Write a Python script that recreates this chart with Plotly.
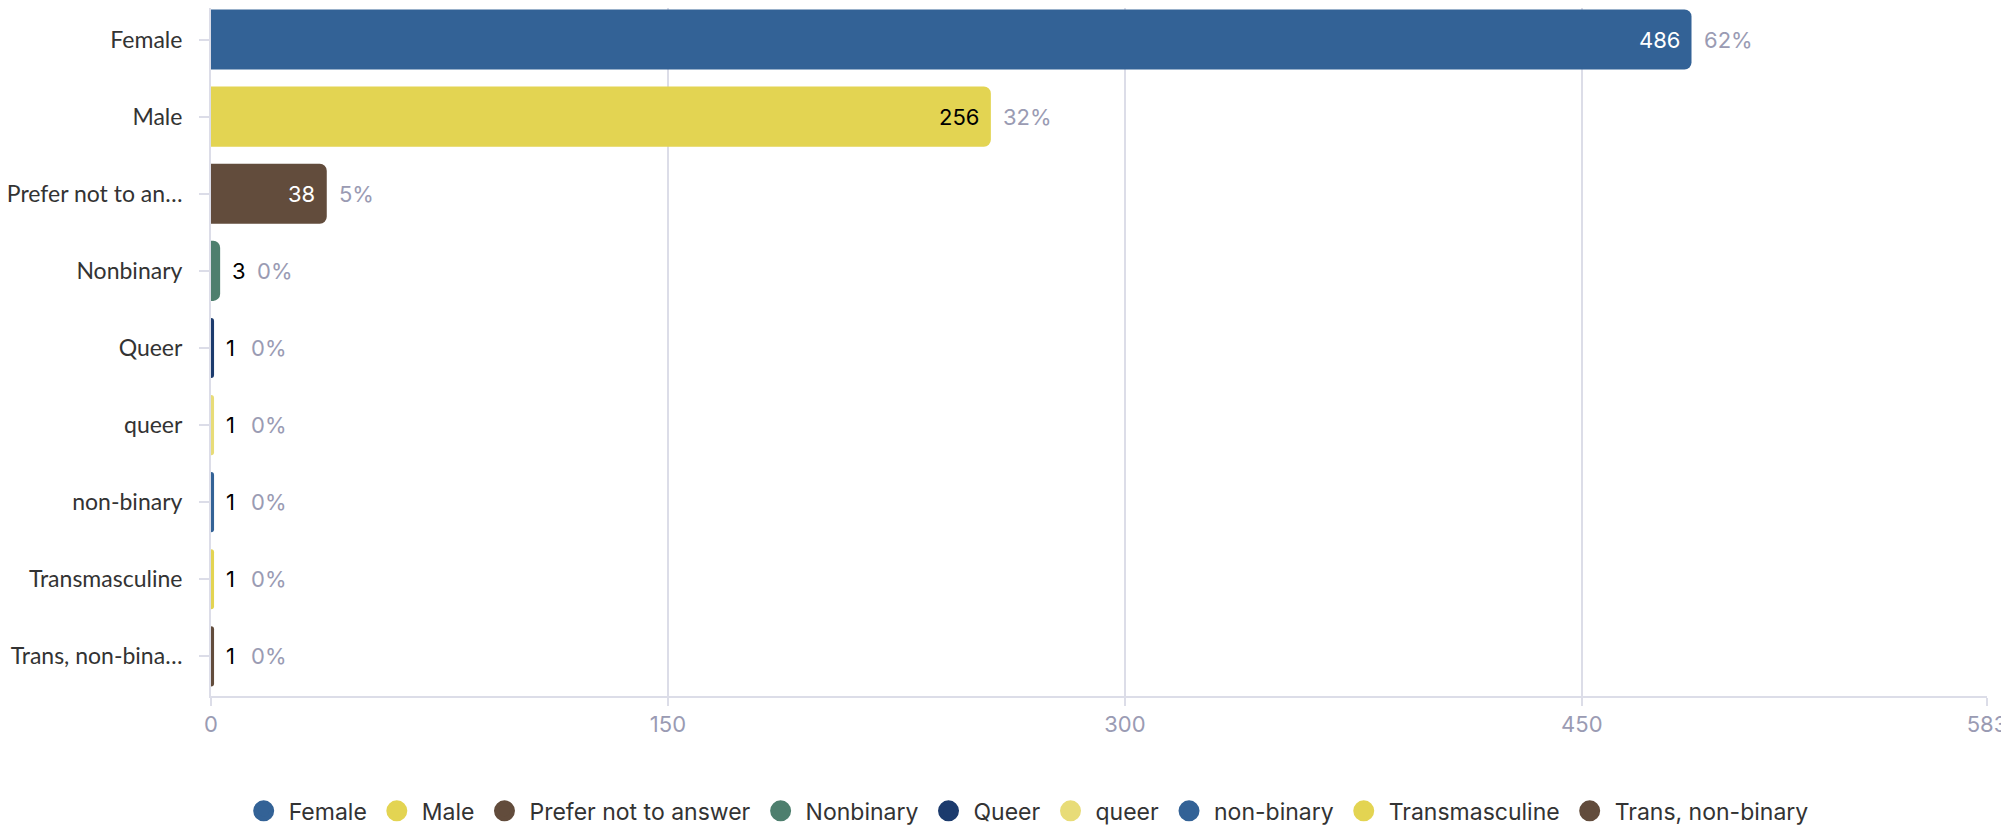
import plotly.graph_objects as go

categories = ["Female", "Male", "Prefer not to answer", "Nonbinary", "Queer", "queer",
              "non-binary", "Transmasculine", "Trans, non-binary"]
tick_labels = ["Female", "Male", "Prefer not to an…", "Nonbinary", "Queer", "queer",
               "non-binary", "Transmasculine", "Trans, non-bina…"]
counts = [486, 256, 38, 3, 1, 1, 1, 1, 1]
percents = ["62%", "32%", "5%", "0%", "0%", "0%", "0%", "0%", "0%"]
colors = ["#336296", "#e3d452", "#624c3c", "#4e7f6e", "#1c3b6d", "#e8dc78",
          "#336296", "#e3d452", "#624c3c"]
value_text_colors = ["#ffffff", "#000000", "#ffffff", "#000000", "#000000", "#000000",
                     "#000000", "#000000", "#000000"]
x_ticks = [0, 150, 300, 450, 583]
x_max = 583

FONT = "Inter"
FS = 22
GRID = "#dcdde8"
TICKC = "#9a9bb3"

fig = go.Figure()
for cat, lab, v, col in zip(categories, tick_labels, counts, colors):
    fig.add_trace(go.Bar(
        x=[v], y=[lab], orientation="h", name=cat,
        marker=dict(color=col, line=dict(width=0)),
        showlegend=False, hoverinfo="x+name",
    ))
    # legend entry with circle marker
    fig.add_trace(go.Scatter(
        x=[None], y=[None], mode="markers", name=cat,
        marker=dict(color=col, size=16, symbol="circle", line=dict(color=col, width=5)),
        showlegend=True,
    ))

# value and percent labels
for lab, v, p, tc in zip(tick_labels, counts, percents, value_text_colors):
    inside = v >= 20
    if inside:
        fig.add_annotation(x=v, y=lab, xref="x", yref="y", text=str(v), showarrow=False,
                           xanchor="right", xshift=-10,
                           font=dict(family=FONT, size=FS, color=tc))
        pshift = 10
    else:
        fig.add_annotation(x=v, y=lab, xref="x", yref="y", text=str(v), showarrow=False,
                           xanchor="left", xshift=10,
                           font=dict(family=FONT, size=FS, color=tc))
        pshift = 10 + 13 * len(str(v)) + 12
    fig.add_annotation(x=v, y=lab, xref="x", yref="y", text=p, showarrow=False,
                       xanchor="left", xshift=pshift,
                       font=dict(family=FONT, size=FS, color=TICKC))

fig.update_layout(
    width=2009, height=828,
    margin=dict(l=203, r=30, t=0, b=140),
    paper_bgcolor="white", plot_bgcolor="white",
    barmode="overlay", bargap=0.22, barcornerradius=7,
    font=dict(family=FONT, size=FS, color="#333333"),
    xaxis=dict(range=[0, x_max], tickvals=x_ticks, ticktext=[str(t) for t in x_ticks],
               automargin=False,
               showgrid=True, gridcolor=GRID, gridwidth=2, zeroline=False,
               showline=True, linecolor=GRID, linewidth=2,
               ticks="outside", ticklen=8, tickcolor=GRID, tickwidth=2,
               tickfont=dict(family=FONT, size=FS, color=TICKC)),
    yaxis=dict(categoryorder="array", categoryarray=tick_labels,
               range=[8.514, -0.409],
               automargin=False,
               showgrid=False, zeroline=False, showline=True, linecolor=GRID, linewidth=2,
               ticks="outside", ticklen=10, tickcolor=GRID, tickwidth=2,
               ticklabelstandoff=12,
               tickfont=dict(family="Lato", size=23, color="#333333")),
    legend=dict(orientation="h", x=0.459, xanchor="center", y=-0.167, yanchor="middle",
                font=dict(family=FONT, size=23, color="#333333"),
                itemsizing="trace", itemwidth=40, traceorder="normal"),
    showlegend=True,
)

fig.write_html("out.html")
